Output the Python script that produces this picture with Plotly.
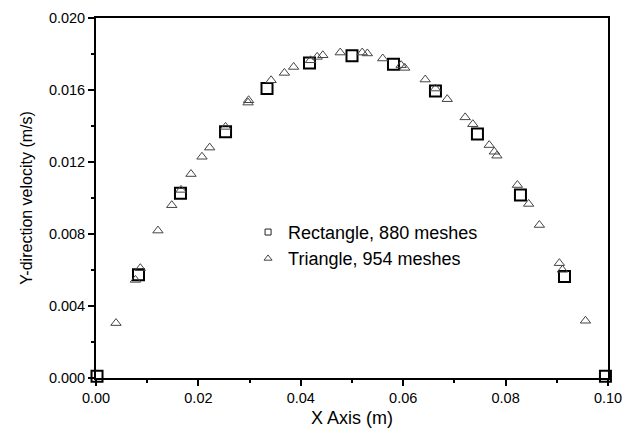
import plotly.graph_objects as go

# Rectangle, 880 meshes
rect_x = [0.0002, 0.0083, 0.0165, 0.0253, 0.0334, 0.0417, 0.0500, 0.0581, 0.0663, 0.0745, 0.0829, 0.0915, 0.0995]
rect_y = [0.0001, 0.00573, 0.01026, 0.01368, 0.01608, 0.0175, 0.0179, 0.01743, 0.01595, 0.01355, 0.01017, 0.00564, 0.0001]

# Triangle, 954 meshes
tri_x = [0.0039, 0.0077, 0.00865, 0.0121, 0.0148, 0.0166, 0.01855, 0.0207, 0.0222, 0.0253,
         0.0297, 0.0298, 0.0342, 0.0368, 0.0386, 0.0419, 0.0432, 0.0443, 0.0477, 0.0520,
         0.0530, 0.0560, 0.0596, 0.0603, 0.0643, 0.0663, 0.0686, 0.0721, 0.0736, 0.0768,
         0.0778, 0.0783, 0.0823, 0.0845, 0.0866, 0.0905, 0.0911, 0.0956]
tri_y = [0.00305, 0.00545, 0.0061, 0.00819, 0.0096, 0.01045, 0.01133, 0.01229, 0.0128, 0.01395,
         0.0153, 0.01543, 0.01654, 0.01695, 0.01728, 0.01765, 0.01784, 0.01793, 0.01808, 0.01808,
         0.01803, 0.01775, 0.01738, 0.01723, 0.01658, 0.01608, 0.01549, 0.01448, 0.0141, 0.01294,
         0.01257, 0.01235, 0.01072, 0.00967, 0.0085, 0.00638, 0.00601, 0.00318]

series_names = ["Rectangle, 880 meshes", "Triangle, 954 meshes"]
x_title = "X Axis (m)"
y_title = "Y-direction velocity (m/s)"

FONT = "Liberation Sans, Arial, sans-serif"

fig = go.Figure()
fig.add_trace(go.Scatter(
    x=rect_x, y=rect_y, mode="markers", showlegend=False, cliponaxis=False,
    marker=dict(symbol="square-open", size=11, color="black", line=dict(width=2, color="black")),
))
fig.add_trace(go.Scatter(
    x=tri_x, y=tri_y, mode="markers", showlegend=False, cliponaxis=False,
    marker=dict(symbol="triangle-up-open", size=9, color="#444", line=dict(width=1, color="#444")),
))
# legend entries with small symbols
fig.add_trace(go.Scatter(
    x=[None], y=[None], mode="markers", name=series_names[0],
    marker=dict(symbol="square-open", size=6, color="#222", line=dict(width=1, color="#222")),
))
fig.add_trace(go.Scatter(
    x=[None], y=[None], mode="markers", name=series_names[1],
    marker=dict(symbol="triangle-up-open", size=7, color="#444", line=dict(width=1, color="#444")),
))

axis_common = dict(
    showgrid=False, zeroline=False, showline=True, linecolor="black", linewidth=1.8,
    mirror=True, ticks="outside", ticklen=6, tickwidth=1.5, tickcolor="black",
    tickfont=dict(family=FONT, size=14.5, color="black"), automargin=False,
)

fig.update_xaxes(
    range=[0, 0.1], dtick=0.02, tick0=0, tickformat=".2f",
    title=dict(text=x_title, font=dict(family=FONT, size=18, color="black"), standoff=6),
    minor=dict(ticks="outside", ticklen=3, dtick=0.01, tickcolor="black"),
    **axis_common,
)
fig.update_yaxes(
    range=[0, 0.02], dtick=0.004, tick0=0, tickformat=".3f",
    title=dict(text=y_title, font=dict(family=FONT, size=16, color="black"), standoff=12),
    minor=dict(ticks="outside", ticklen=3, dtick=0.002, tickcolor="black"),
    **axis_common,
)

fig.update_layout(
    width=632, height=432, autosize=False,
    margin=dict(l=96, r=24, t=18, b=54),
    paper_bgcolor="white", plot_bgcolor="white",
    legend=dict(
        x=0.297, y=0.456, xanchor="left", yanchor="top",
        bgcolor="rgba(0,0,0,0)", borderwidth=0,
        font=dict(family=FONT, size=18, color="black"),
        itemsizing="trace", tracegroupgap=0,
    ),
)

fig.write_html("out.html")
